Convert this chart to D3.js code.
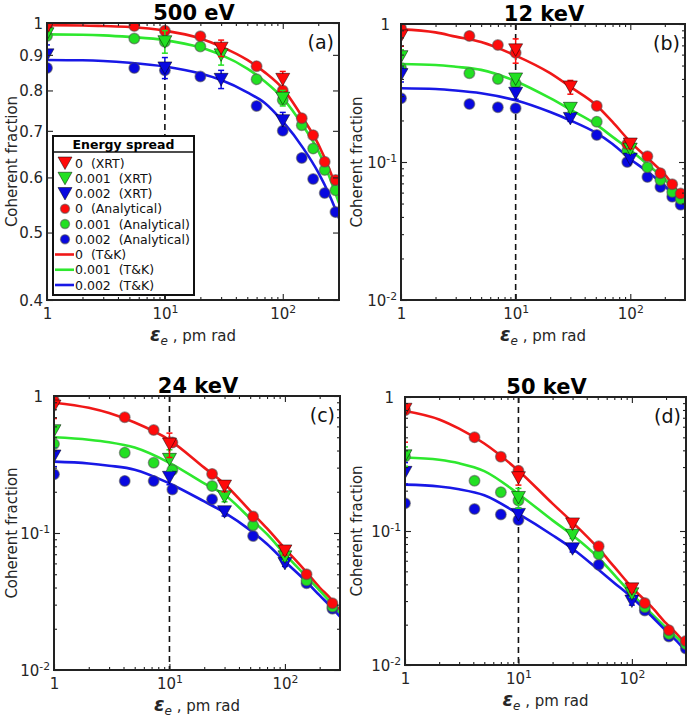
<!DOCTYPE html>
<html><head><meta charset="utf-8">
<script src="https://cdn.jsdelivr.net/npm/d3@7"></script>
<style>body{margin:0;background:#fff} svg{display:block} text{white-space:pre}</style>
</head><body><svg id="c" width="693" height="718"></svg>
<script>
// ---------------- DATA ----------------
const panelTitles = ["500 eV", "12 keV", "24 keV", "50 keV"];
const panelLetters = ["(a)", "(b)", "(c)", "(d)"];
const spreadLabels = ["0", "0.001", "0.002"];
const legendLabels = ["0  (XRT)", "0.001  (XRT)", "0.002  (XRT)",
  "0  (Analytical)", "0.001  (Analytical)", "0.002  (Analytical)",
  "0  (T&K)", "0.001  (T&K)", "0.002  (T&K)"];
const xTickValues = [1, 10, 100];
const yTicksLinear = [0.4, 0.5, 0.6, 0.7, 0.8, 0.9, 1];
const yTicksDecade = [0.01, 0.1, 1];

// T&K curves
const tkX = [1, 2, 3, 5, 10, 20, 30, 50, 70, 100, 150, 200, 250, 300];
const tkA0 = [0.993, 0.992, 0.99, 0.987, 0.975, 0.95, 0.925, 0.885, 0.85, 0.805, 0.728, 0.67, 0.615, 0.565];
const tkA1 = [0.963, 0.962, 0.96, 0.955, 0.945, 0.922, 0.9, 0.86, 0.825, 0.78, 0.71, 0.655, 0.6, 0.551];
const tkA2 = [0.885, 0.884, 0.882, 0.877, 0.866, 0.846, 0.828, 0.795, 0.768, 0.722, 0.66, 0.61, 0.565, 0.524];
const tkB0 = [0.915, 0.87, 0.81, 0.74, 0.59, 0.44, 0.35, 0.26, 0.195, 0.14, 0.102, 0.081, 0.064, 0.053];
const tkB1 = [0.513, 0.505, 0.49, 0.465, 0.385, 0.29, 0.24, 0.188, 0.152, 0.122, 0.092, 0.075, 0.06, 0.05];
const tkB2 = [0.342, 0.338, 0.33, 0.315, 0.28, 0.23, 0.2, 0.163, 0.135, 0.105, 0.082, 0.067, 0.055, 0.046];
const tkC0 = [0.894, 0.82, 0.75, 0.64, 0.477, 0.3, 0.228, 0.145, 0.108, 0.077, 0.053, 0.04, 0.033, 0.027];
const tkC1 = [0.50, 0.48, 0.46, 0.42, 0.325, 0.23, 0.19, 0.128, 0.098, 0.07, 0.049, 0.038, 0.031, 0.026];
const tkC2 = [0.332, 0.322, 0.31, 0.29, 0.23, 0.17, 0.141, 0.105, 0.083, 0.062, 0.045, 0.035, 0.029, 0.0245];
const tkD0 = [0.787, 0.68, 0.58, 0.45, 0.282, 0.16, 0.116, 0.075, 0.054, 0.038, 0.027, 0.0205, 0.017, 0.0142];
const tkD1 = [0.354, 0.34, 0.32, 0.28, 0.189, 0.12, 0.093, 0.064, 0.047, 0.034, 0.024, 0.019, 0.016, 0.0137];
const tkD2 = [0.222, 0.215, 0.205, 0.185, 0.134, 0.093, 0.0737, 0.052, 0.041, 0.0319, 0.023, 0.018, 0.015, 0.0126];

// Analytical points
const anaAx = [1, 5.5, 10, 20, 60, 100, 145, 181, 227, 280];
const anaA0 = [0.99, 0.99, 0.975, 0.957, 0.867, 0.80, 0.73, 0.69, 0.632, 0.595];
const anaA1 = [0.958, 0.95, 0.94, 0.925, 0.83, 0.775, 0.713, 0.66, 0.615, 0.575];
const anaA2 = [0.862, 0.862, 0.855, 0.838, 0.76, 0.70, 0.64, 0.597, 0.57, 0.535];
const anaBx = [1, 3.95, 7, 10, 51, 94, 141, 183, 232, 275];
const anaB0 = [0.93, 0.82, 0.705, 0.62, 0.255, 0.135, 0.11, 0.083, 0.069, 0.059];
const anaB1 = [0.48, 0.44, 0.40, 0.37, 0.196, 0.12, 0.0915, 0.0742, 0.0606, 0.054];
const anaB2 = [0.29, 0.263, 0.249, 0.245, 0.157, 0.10, 0.078, 0.066, 0.056, 0.049];
const anaCx = [1, 4.1, 7.3, 10.6, 23.4, 53, 154, 258];
const anaC0 = [0.925, 0.70, 0.565, 0.457, 0.27, 0.132, 0.05, 0.0307];
const anaC1 = [0.446, 0.386, 0.326, 0.288, 0.22, 0.114, 0.045, 0.029];
const anaC2 = [0.268, 0.24, 0.24, 0.208, 0.176, 0.095, 0.043, 0.028];
const anaDx = [1, 4.1, 7, 10, 51, 130, 212, 299];
const anaD0 = [0.796, 0.50, 0.358, 0.282, 0.077, 0.029, 0.0182, 0.0151];
const anaD1 = [0.36, 0.237, 0.195, 0.169, 0.067, 0.027, 0.017, 0.0143];
const anaD2 = [0.161, 0.146, 0.133, 0.121, 0.056, 0.0255, 0.0163, 0.0133];

// XRT points with symmetric error bars
const xrtX = [1, 10, 30, 100];
const xrtAx0 = [1, 30, 100];
const xrtA0 = [0.985, 0.92, 0.83];      const errA0 = [0.01, 0.025, 0.022];
const xrtA1 = [0.965, 0.94, 0.9, 0.78];  const errA1 = [0.01, 0.035, 0.03, 0.02];
const xrtA2 = [0.9, 0.862, 0.83, 0.724]; const errA2 = [0.03, 0.03, 0.025, 0.02];
const xrtB0 = [0.82, 0.65, 0.35, 0.135]; const errB0 = [0.13, 0.13, 0.04, 0.01];
const xrtB1 = [0.58, 0.40, 0.245, 0.124]; const errB1 = [0.07, 0.03, 0.015, 0.008];
const xrtB2 = [0.43, 0.315, 0.207, 0.105]; const errB2 = [0.05, 0.03, 0.01, 0.005];
const xrtC0 = [0.845, 0.446, 0.22, 0.074]; const errC0 = [0.16, 0.09, 0.02, 0.005];
const xrtC1 = [0.558, 0.345, 0.184, 0.067]; const errC1 = [0.13, 0.06, 0.015, 0.004];
const xrtC2 = [0.365, 0.255, 0.143, 0.06]; const errC2 = [0.06, 0.03, 0.01, 0.003];
const xrtD0 = [0.81, 0.25, 0.113, 0.037]; const errD0 = [0.35, 0.03, 0.006, 0.002];
const xrtD1 = [0.364, 0.178, 0.093, 0.034]; const errD1 = [0.06, 0.03, 0.005, 0.002];
const xrtD2 = [0.274, 0.133, 0.0737, 0.030]; const errD2 = [0.05, 0.015, 0.004, 0.002];

// ---------------- STYLE / LAYOUT ----------------
const FONT = "'DejaVu Sans', Arial, sans-serif";
const markColors = ["#ff0a0a", "#22e022", "#0808e0"];
const lineColors = ["#f01818", "#2ee82e", "#1818e6"];
const AX = "#222";

const panels = [
  {id: "a", l: 47, r: 339, t: 23, b: 300, yDom: [0.4, 1], yTicks: yTicksLinear, dashTop: 0.845, ylabX: 12,
   tk: [tkA0, tkA1, tkA2], anaX: [anaAx, anaAx, anaAx], ana: [anaA0, anaA1, anaA2],
   xrtXs: [xrtAx0, xrtX, xrtX], xrt: [xrtA0, xrtA1, xrtA2], err: [errA0, errA1, errA2], legend: true},
  {id: "b", l: 401, r: 685, t: 24, b: 300, yDom: [0.01, 1], yTicks: yTicksDecade, dashTop: 1, ylabX: 357,
   tk: [tkB0, tkB1, tkB2], anaX: [anaBx, anaBx, anaBx], ana: [anaB0, anaB1, anaB2],
   xrtXs: [xrtX, xrtX, xrtX], xrt: [xrtB0, xrtB1, xrtB2], err: [errB0, errB1, errB2]},
  {id: "c", l: 54, r: 340, t: 396, b: 670, yDom: [0.01, 1], yTicks: yTicksDecade, dashTop: 1, ylabX: 12,
   tk: [tkC0, tkC1, tkC2], anaX: [anaCx, anaCx, anaCx], ana: [anaC0, anaC1, anaC2],
   xrtXs: [xrtX, xrtX, xrtX], xrt: [xrtC0, xrtC1, xrtC2], err: [errC0, errC1, errC2]},
  {id: "d", l: 405, r: 686, t: 397, b: 665, yDom: [0.01, 1], yTicks: yTicksDecade, dashTop: 1, ylabX: 357,
   tk: [tkD0, tkD1, tkD2], anaX: [anaDx, anaDx, anaDx], ana: [anaD0, anaD1, anaD2],
   xrtXs: [xrtX, xrtX, xrtX], xrt: [xrtD0, xrtD1, xrtD2], err: [errD0, errD1, errD2]}
];

const svg = d3.select("#c");
const defs = svg.append("defs");
const triPath = "M-7,-6L7,-6L0,6.5Z";

function superLabel(sel, v) {
  const e = Math.round(Math.log10(v));
  sel.text(null);
  if (e === 0) { sel.text("1"); return; }
  sel.append("tspan").text("10");
  sel.append("tspan").attr("dy", "-0.55em").attr("font-size", "0.72em").text(String(e));
}

function minorTicks(dom) {
  const out = [];
  const lo = Math.floor(Math.log10(dom[0])), hi = Math.ceil(Math.log10(dom[1]));
  for (let e = lo; e < hi; e++) for (let m = 2; m <= 9; m++) {
    const v = m * Math.pow(10, e);
    if (v > dom[0] && v < dom[1]) out.push(v);
  }
  return out;
}

panels.forEach((p, pi) => {
  const x = d3.scaleLog().domain([1, 300]).range([p.l, p.r]);
  const y = d3.scaleLog().domain(p.yDom).range([p.b, p.t]);
  const g = svg.append("g");
  const W = p.r - p.l, H = p.b - p.t;

  defs.append("clipPath").attr("id", "clip" + p.id)
    .append("rect").attr("x", p.l).attr("y", p.t).attr("width", W).attr("height", H);

  g.append("rect").attr("x", p.l).attr("y", p.t).attr("width", W).attr("height", H).attr("fill", "#fff");

  // dashed line at 10 pm rad
  g.append("line").attr("x1", x(10)).attr("x2", x(10)).attr("y1", y(p.dashTop)).attr("y2", p.b)
    .attr("stroke", "#111").attr("stroke-width", 1.6).attr("stroke-dasharray", "6,4");

  const plot = g.append("g").attr("clip-path", `url(#clip${p.id})`);

  // T&K lines
  const line = d3.line().x(d => x(d[0])).y(d => y(d[1])).curve(d3.curveMonotoneX);
  p.tk.forEach((arr, si) => {
    plot.append("path").datum(tkX.map((xv, i) => [xv, arr[i]]))
      .attr("d", line).attr("fill", "none").attr("stroke", lineColors[si]).attr("stroke-width", 2.6);
  });

  // Analytical circles
  [2, 1, 0].forEach(si => {
    plot.selectAll(null).data(p.anaX[si].map((xv, i) => [xv, p.ana[si][i]])).enter()
      .append("circle").attr("cx", d => x(d[0])).attr("cy", d => y(d[1])).attr("r", 5.3)
      .attr("fill", markColors[si]).attr("stroke", "rgba(80,80,80,0.55)").attr("stroke-width", 1.4);
  });

  // XRT error bars & triangles
  [2, 1, 0].forEach(si => {
    const pts = p.xrtXs[si].map((xv, i) => ({x: xv, y: p.xrt[si][i], e: p.err[si][i]}));
    const eg = plot.append("g").attr("stroke", markColors[si]).attr("stroke-width", 1.5);
    pts.forEach(d => {
      const y1 = y(Math.min(d.y + d.e, p.yDom[1] * 1.2)), y2 = y(Math.max(d.y - d.e, p.yDom[0]));
      const cx = x(d.x);
      eg.append("line").attr("x1", cx).attr("x2", cx).attr("y1", y1).attr("y2", y2);
      eg.append("line").attr("x1", cx - 3).attr("x2", cx + 3).attr("y1", y1).attr("y2", y1);
      eg.append("line").attr("x1", cx - 3).attr("x2", cx + 3).attr("y1", y2).attr("y2", y2);
    });
    plot.selectAll(null).data(pts).enter().append("path")
      .attr("d", triPath).attr("transform", d => `translate(${x(d.x)},${y(d.y)})`)
      .attr("fill", markColors[si]).attr("stroke", "rgba(0,0,0,0.55)").attr("stroke-width", 0.9);
  });

  // axes: major + minor ticks on all four sides (inward)
  const mk = (axisFn, scale, vals, size, translate, labels) => {
    const a = axisFn(scale).tickValues(vals).tickSizeInner(size).tickSizeOuter(0);
    a.tickFormat(labels ? (d => d) : (() => ""));
    const ag = g.append("g").attr("transform", translate).call(a);
    ag.select(".domain").remove();
    ag.selectAll(".tick line").attr("stroke", AX).attr("stroke-width", 1.1);
    return ag;
  };
  const xMinor = minorTicks([1, 300]);
  const xb = mk(d3.axisBottom, x, xTickValues, -6, `translate(0,${p.b})`, true);
  xb.selectAll(".tick text").attr("font-family", FONT).attr("font-size", 15).attr("fill", "#262626")
    .attr("dy", "1.05em").each(function(d) { superLabel(d3.select(this), d); });
  mk(d3.axisBottom, x, xMinor, -3, `translate(0,${p.b})`, false);
  mk(d3.axisTop, x, xTickValues, -6, `translate(0,${p.t})`, false);
  mk(d3.axisTop, x, xMinor, -3, `translate(0,${p.t})`, false);

  const yl = mk(d3.axisLeft, y, p.yTicks, -6, `translate(${p.l},0)`, true);
  yl.selectAll(".tick text").attr("font-family", FONT).attr("font-size", 15).attr("fill", "#262626")
    .attr("x", -4).attr("dy", "0.36em")
    .each(function(d) {
      const s = d3.select(this);
      if (p.id === "a") s.text(d === 1 ? "1" : d3.format(".1f")(d));
      else { superLabel(s, d); if (d === 1) s.attr("x", -11); }
    });
  mk(d3.axisRight, y, p.yTicks, -6, `translate(${p.r},0)`, false);
  if (p.id !== "a") {
    const yMinor = minorTicks(p.yDom);
    mk(d3.axisLeft, y, yMinor, -3, `translate(${p.l},0)`, false);
    mk(d3.axisRight, y, yMinor, -3, `translate(${p.r},0)`, false);
  }

  // frame
  g.append("rect").attr("x", p.l).attr("y", p.t).attr("width", W).attr("height", H)
    .attr("fill", "none").attr("stroke", AX).attr("stroke-width", 2);

  // title
  g.append("text").attr("x", (p.l + p.r) / 2 + 1).attr("y", p.t - 3).attr("text-anchor", "middle")
    .attr("font-family", FONT).attr("font-weight", "bold").attr("font-size", 21).attr("fill", "#000")
    .text(panelTitles[pi]);
  // panel letter
  g.append("text").attr("x", p.r - 5).attr("y", p.t + 26).attr("text-anchor", "end")
    .attr("font-family", FONT).attr("font-size", 19).attr("fill", "#111").text(panelLetters[pi]);

  // y label
  g.append("text").attr("transform", `translate(${p.ylabX + 5},${(p.t + p.b) / 2}) rotate(-90)`)
    .attr("text-anchor", "middle").attr("font-family", FONT).attr("font-size", 15).attr("fill", "#262626")
    .text("Coherent fraction");
  // x label
  const xt = g.append("text").attr("x", (p.l + p.r) / 2).attr("y", p.b + 41).attr("text-anchor", "middle")
    .attr("font-family", FONT).attr("fill", "#262626").attr("font-size", 15);
  xt.append("tspan").attr("font-style", "italic").attr("font-size", 19).attr("font-weight", "bold").text("ε");
  xt.append("tspan").attr("font-style", "italic").attr("font-size", 12).attr("dy", 4).text("e");
  xt.append("tspan").attr("dy", -4).text(" , pm rad");

  // legend
  if (p.legend) {
    const L = {x: 53, y: 136, w: 141, h: 159};
    const lg = svg.append("g");
    lg.append("rect").attr("x", L.x).attr("y", L.y).attr("width", L.w).attr("height", L.h)
      .attr("fill", "#fff").attr("stroke", "#111").attr("stroke-width", 2);
    lg.append("line").attr("x1", L.x).attr("x2", L.x + L.w).attr("y1", L.y + 16).attr("y2", L.y + 16)
      .attr("stroke", "#111").attr("stroke-width", 1.5);
    lg.append("text").attr("x", L.x + L.w / 2).attr("y", L.y + 12.5).attr("text-anchor", "middle")
      .attr("font-family", FONT).attr("font-weight", "bold").attr("font-size", 12.5).text("Energy spread");
    legendLabels.forEach((lab, i) => {
      const cy = L.y + 27 + i * 15.25;
      const si = i % 3, kind = Math.floor(i / 3);
      if (kind === 0) {
        lg.append("path").attr("d", triPath).attr("transform", `translate(${L.x + 12},${cy})`)
          .attr("fill", markColors[si]).attr("stroke", "rgba(0,0,0,0.55)").attr("stroke-width", 0.9);
      } else if (kind === 1) {
        lg.append("circle").attr("cx", L.x + 12).attr("cy", cy).attr("r", 4.5)
          .attr("fill", markColors[si]).attr("stroke", "rgba(80,80,80,0.55)").attr("stroke-width", 1.4);
      } else {
        lg.append("line").attr("x1", L.x + 2).attr("x2", L.x + 21).attr("y1", cy).attr("y2", cy)
          .attr("stroke", lineColors[si]).attr("stroke-width", 2.6);
      }
      lg.append("text").attr("x", L.x + 22).attr("y", cy + 4.5).attr("font-family", FONT)
        .attr("font-size", 12.5).attr("fill", "#111").attr("xml:space", "preserve").text(lab);
    });
  }
});
</script></body></html>
